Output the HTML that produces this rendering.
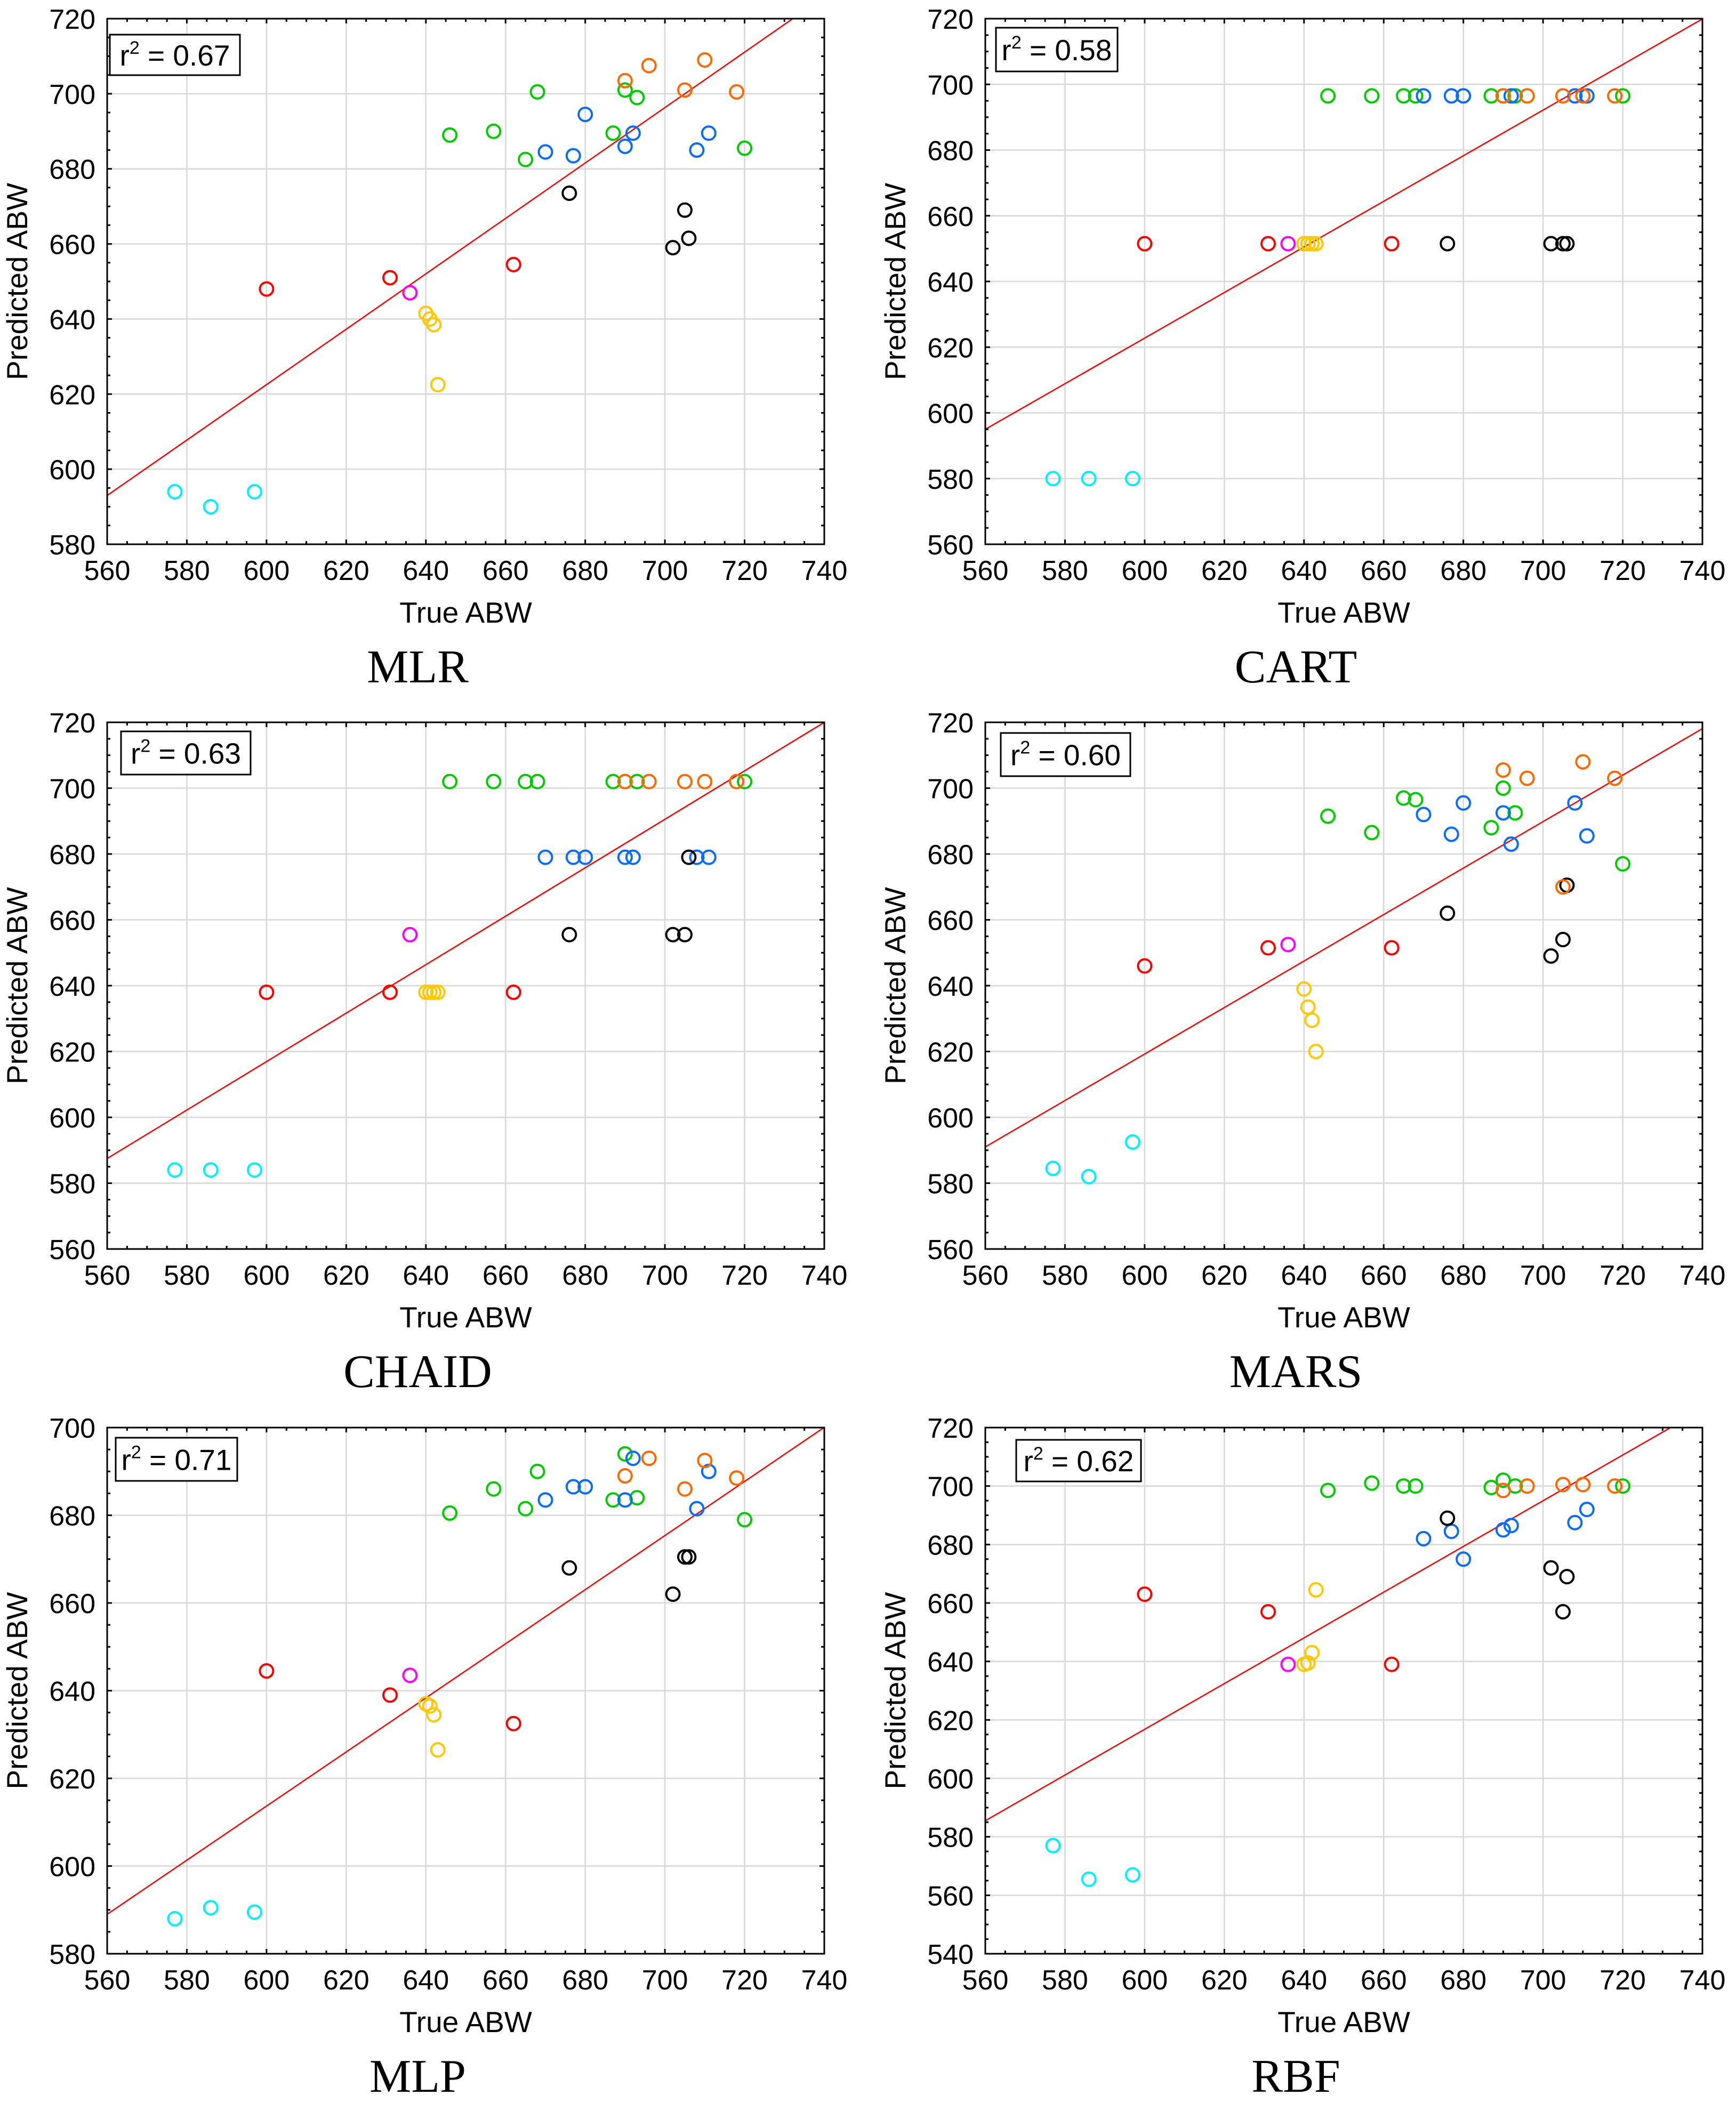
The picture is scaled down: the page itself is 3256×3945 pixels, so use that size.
<!DOCTYPE html>
<html><head><meta charset="utf-8">
<style>
html,body{margin:0;padding:0;background:#fff;}
svg{display:block;}
text{font-family:"Liberation Sans",Arial,sans-serif;fill:#000;}
.ttl{font-family:"Liberation Serif","Times New Roman",serif;}
</style></head>
<body>
<svg id="fig" xmlns="http://www.w3.org/2000/svg" width="3256" height="3945" viewBox="0 0 3256 3945"></svg>
<script>
// ---- shared data ----
const trueX   = [577,586,597, 600,631,662, 636, 640,641,642,643, 646,657,665,668,687,690,693,720, 670,677,680,690,692,708,711, 676,702,705,706, 690,696,705,710,718];
const groups  = ['c','c','c','r','r','r','m','y','y','y','y','g','g','g','g','g','g','g','g','b','b','b','b','b','b','b','k','k','k','k','o','o','o','o','o'];
// ---- predicted values per model ----
const mlrY   = [594,590,594, 648,651,654.5, 647, 641.5,640,638.5,622.5, 689,690,682.5,700.5,689.5,701,699,685.5, 684.5,683.5,694.5,686,689.5,685,689.5, 673.5,659,669,661.5, 703.5,707.5,701,709,700.5];
const cartY  = [580,580,580, 651.5,651.5,651.5, 651.5, 651.5,651.5,651.5,651.5, 696.5,696.5,696.5,696.5,696.5,696.5,696.5,696.5, 696.5,696.5,696.5,696.5,696.5,696.5,696.5, 651.5,651.5,651.5,651.5, 696.5,696.5,696.5,696.5,696.5];
const chaidY = [584,584,584, 638,638,638, 655.5, 638,638,638,638, 702,702,702,702,702,702,702,702, 679,679,679,679,679,679,679, 655.5,655.5,655.5,679, 702,702,702,702,702];
const marsY  = [584.5,582,592.5, 646,651.5,651.5, 652.5, 639,633.5,629.5,620, 691.5,686.5,697,696.5,688,700,692.5,677, 692,686,695.5,692.5,683,695.5,685.5, 662,649,654,670.5, 705.5,703,670,708,703];
const mlpY   = [588,590.5,589.5, 644.5,639,632.5, 643.5, 637,636.5,634.5,626.5, 680.5,686,681.5,690,683.5,694,684,679, 683.5,686.5,686.5,683.5,693,681.5,690, 668,662,670.5,670.5, 689,693,686,692.5,688.5];
const rbfY   = [577,565.5,567, 663,657,639, 639, 639,639.5,643,664.5, 698.5,701,700,700,699.5,702,700,700, 682,684.5,675,685,686.5,687.5,692, 689,672,657,669, 698.5,700,700.5,700.5,700];
// ---- axis ticks / fits / labels ----
const xTicks = [560,580,600,620,640,660,680,700,720,740];
const yMins  = [580,560,560,560,580,540];
const yMaxs  = [720,720,720,720,700,720];
const fitIntercepts = [593,595,587.5,591,589,585.5]; // predicted at x=560
const fitSlopes     = [0.738,0.694,0.736,0.706,0.617,0.782];
const r2Labels = ['0.67','0.58','0.63','0.60','0.71','0.62'];
const modelNames = ['MLR','CART','CHAID','MARS','MLP','RBF'];
const seriesAll = [mlrY,cartY,chaidY,marsY,mlpY,rbfY];

const colors = {c:'#00f0ff',r:'#ff0000',m:'#ff00ff',y:'#ffc800',g:'#00cc00',b:'#0a6cff',k:'#000000',o:'#ff6a00'};
const NS='http://www.w3.org/2000/svg';
const svg=document.getElementById('fig');
function mk(tag,attrs,parent){const e=document.createElementNS(NS,tag);for(const k in attrs)e.setAttribute(k,attrs[k]);(parent||svg).appendChild(e);return e;}

const lefts=[201,1848];
const tops=[35,1355,2678];
const bottoms=[1021,2343,3665];
const PW=1345;
const boxes=[[206,65,244,76],[1868,52,228,82],[227,1372,243,81],[1877,1375,243,81],[217,2697,228,81],[1906,2701,234,78]];

for(let p=0;p<6;p++){
  const col=p%2,row=Math.floor(p/2);
  const L=lefts[col],R=L+PW,T=tops[row],B=bottoms[row];
  const ymin=yMins[p],ymax=yMaxs[p];
  const sx=v=>L+(v-560)/180*(R-L);
  const sy=v=>B-(v-ymin)/(ymax-ymin)*(B-T);
  const g=mk('g',{});
  
  
  for(const xv of xTicks){ if(xv>560&&xv<740){const l=mk('line',{x1:sx(xv),x2:sx(xv),y1:T,y2:B,stroke:'#d8d8d8','stroke-width':2.5},g);
    
    } }
  for(let yv=ymin+20;yv<ymax;yv+=20){const l=mk('line',{x1:L,x2:R,y1:sy(yv),y2:sy(yv),stroke:'#d8d8d8','stroke-width':2.5},g);
    
    }
  const cid='clip'+p;
  const cp=mk('clipPath',{id:cid},g);mk('rect',{x:L,y:T,width:R-L,height:B-T},cp);
  const f=x=>fitIntercepts[p]+fitSlopes[p]*(x-560);
  const fl=mk('line',{x1:sx(560),y1:sy(f(560)),x2:sx(740),y2:sy(f(740)),stroke:'#ff0000','stroke-width':2.5,'clip-path':'url(#'+cid+')'},g);
  
  
  const ys=seriesAll[p];
  for(let i=0;i<trueX.length;i++){
    const c=mk('circle',{cx:sx(trueX[i]),cy:sy(ys[i]),r:12.5,fill:'none',stroke:colors[groups[i]],'stroke-width':4},g);
    
    
  }
  let td='';
  for(let xv=560;xv<=740;xv+=5){const X=sx(xv),len=(xv%20===0)?9:6;td+=`M${X},${B}v${-len}M${X},${T}v${len}`;}
  for(let yv=ymin;yv<=ymax;yv+=5){const Y=sy(yv),len=(yv%20===0)?9:6;td+=`M${L},${Y}h${len}M${R},${Y}h${-len}`;}
  const tk=mk('path',{d:td,stroke:'#000','stroke-width':3,fill:'none'},g);
  
  
  const fr=mk('rect',{x:L,y:T,width:R-L,height:B-T,fill:'none',stroke:'#000','stroke-width':3},g);
  
  
  for(const xv of xTicks){const t=mk('text',{x:sx(xv),y:B+67,'font-size':52,'text-anchor':'middle'},g);t.textContent=xv;
    
    }
  for(let yv=ymin;yv<=ymax;yv+=20){const t=mk('text',{x:L-22,y:sy(yv)+19,'font-size':52,'text-anchor':'end'},g);t.textContent=yv;
    
    }
  const xt=mk('text',{x:(L+R)/2,y:B+147,'font-size':55,'text-anchor':'middle'},g);xt.textContent='True ABW';
  
  
  const yc=(T+B)/2,yx=L-150;
  const yt=mk('text',{x:yx,y:yc,'font-size':55,'text-anchor':'middle',transform:`rotate(-90 ${yx} ${yc})`},g);yt.textContent='Predicted ABW';
  
  
  const tt=mk('text',{x:(L+R)/2-90,y:B+259,'font-size':88,'text-anchor':'middle',class:'ttl'},g);tt.textContent=modelNames[p];
  
  
  const bx=boxes[p];
  const rb=mk('rect',{x:bx[0],y:bx[1],width:bx[2],height:bx[3],fill:'#fff',stroke:'#000','stroke-width':3},g);
  
  
  const rt=mk('text',{x:bx[0]+bx[2]/2,y:bx[1]+bx[3]/2+20,'font-size':55,'text-anchor':'middle'},g);
  
  
  const s1=mk('tspan',{},rt);s1.textContent='r';
  const s2=mk('tspan',{'font-size':34,dy:-22},rt);s2.textContent='2';
  const s3=mk('tspan',{dy:22},rt);s3.textContent=' = '+r2Labels[p];
}
</script>
</body></html>
